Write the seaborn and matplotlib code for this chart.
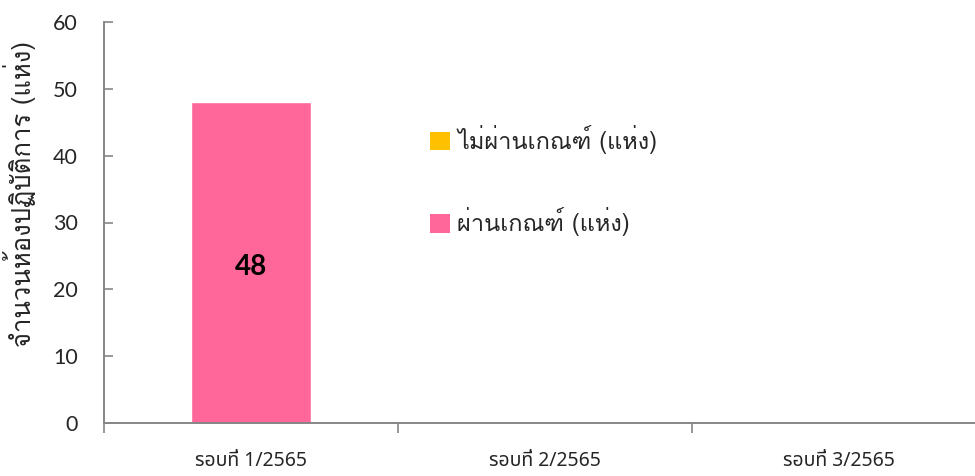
import matplotlib
matplotlib.use("Agg")
import matplotlib.pyplot as plt
from matplotlib.patches import Patch
import seaborn as sns
import pandas as pd

# --- Data ---
rounds = ["รอบที่ 1/2565", "รอบที่ 2/2565", "รอบที่ 3/2565"]
passed = [48, 0, 0]
not_passed = [0, 0, 0]
series_names = ["ไม่ผ่านเกณฑ์ (แห่ง)", "ผ่านเกณฑ์ (แห่ง)"]
y_label = "จำนวนห้องปฏิบัติการ (แห่ง)"
y_ticks = [0, 10, 20, 30, 40, 50, 60]

PINK = "#FF6699"
YELLOW = "#FFC000"
AXIS_GREY = "#868686"
THAI = ["Loma", "DejaVu Sans"]
THAI_X = ["Noto Sans Thai", "DejaVu Sans"]
NUM = ["Lato", "DejaVu Sans"]

sns.set_theme(style="white")

df = pd.DataFrame({"round": rounds, "passed": passed, "not_passed": not_passed})
df["total"] = df["passed"] + df["not_passed"]

fig = plt.figure(figsize=(9.75, 4.76), dpi=100)
ax = fig.add_axes([104 / 975, 53 / 476, 882 / 975, 401 / 476])

# stacked columns: total (yellow) underneath, passed (pink) on top of it
sns.barplot(data=df, x="round", y="total", color=YELLOW, width=0.405, saturation=1, ax=ax)
sns.barplot(data=df, x="round", y="passed", color=PINK, width=0.405, saturation=1, ax=ax)

# value label in the middle of the non-empty bars
for i, v in enumerate(df["passed"]):
    if v > 0:
        ax.text(i, v / 2 - 0.6, f"{v}", ha="center", va="center", fontsize=20,
                fontweight="bold", family=NUM, color="black")

ax.set_xlim(-0.5, 2.5)
ax.set_ylim(0, 60)
ax.set_yticks(y_ticks)
ax.set_xlabel("")
ax.set_ylabel(y_label, family=THAI, fontsize=18.5, fontweight="normal")
ax.yaxis.set_label_coords(-0.077, 0.57)

for s in ["top", "right"]:
    ax.spines[s].set_visible(False)
for s in ["left", "bottom"]:
    ax.spines[s].set_color(AXIS_GREY)
    ax.spines[s].set_linewidth(1.4)

ax.tick_params(axis="y", direction="in", length=6.5, width=1.2, color=AXIS_GREY,
               pad=19, labelsize=15.5, left=True)
for lab in ax.get_yticklabels():
    lab.set_family(NUM)

ax.set_xticks([-0.5, 0.5, 1.5, 2.5], minor=True)
ax.tick_params(axis="x", which="minor", direction="out", length=7, width=1.2,
               color=AXIS_GREY, bottom=True)
ax.tick_params(axis="x", which="major", length=0, pad=20, labelsize=14)
for lab in ax.get_xticklabels():
    lab.set_family(THAI_X)

handles = [Patch(facecolor=YELLOW, edgecolor="none"), Patch(facecolor=PINK, edgecolor="none")]
leg = fig.legend(handles, series_names, loc="upper left", bbox_to_anchor=(409 / 975, 1 - 104 / 476),
                 frameon=False, handlelength=0.85, handleheight=0.85, handletextpad=0.3,
                 labelspacing=2.25, prop={"family": THAI, "size": 17, "weight": "normal"})

fig.savefig("out.png", dpi=100)
